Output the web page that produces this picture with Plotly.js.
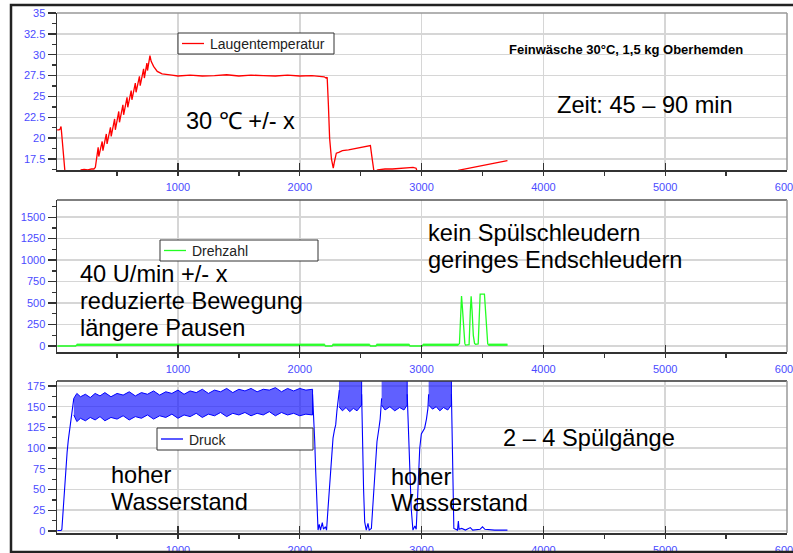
<!DOCTYPE html>
<html>
<head>
<meta charset="utf-8">
<script src="https://cdn.plot.ly/plotly-3.0.1.min.js"></script>
<style>html,body{margin:0;padding:0;background:#fff;}#chart{width:793px;height:553px;}</style>
</head>
<body>
<div id="chart"></div>
<script>
// ---------- DATA ----------
const seriesNames = ['Laugentemperatur', 'Drehzahl', 'Druck'];

// Laugentemperatur (°C) over time (s)
const tempX = [8,25,33,40,45,52,60,68,75,197,205,230,260,290,310,322,
  333,345,350,378,384,412,418,446,452,480,486,514,520,548,554,582,588,616,622,650,656,684,690,718,724,745,750,770,
  780,800,830,870,950,1000,1100,1200,1300,1400,1500,1600,1700,1800,1900,2000,2100,2200,2215,2225,2235,2245,2260,2275,2285,2300,2320,2350,2400,2450,2500,2550,2580,2590,2600,2610,
  2640,2700,2760,2820,2880,2930,2955,2965,3000,3290,3303,3400,3500,3600,3705];
const tempY = [21.0,21.0,21.1,21.4,20.6,19.5,17.6,16.0,15.5,15.9,16.2,16.25,16.2,16.3,16.3,16.5,
  17.8,18.9,17.8,19.6,18.5,20.5,19.3,21.3,20.2,22.3,21.0,23.2,21.9,24.0,22.8,24.9,23.7,25.7,24.6,26.6,25.5,27.4,26.3,28.3,27.2,29.0,28.1,29.9,
  29.2,28.6,28.0,27.7,27.55,27.45,27.55,27.45,27.5,27.6,27.45,27.55,27.5,27.45,27.55,27.45,27.5,27.35,27.2,27.3,24.0,20.0,17.5,16.4,17.2,18.2,18.3,18.5,18.6,18.75,18.9,19.0,19.1,18.0,16.5,15.9,
  16.2,16.3,16.3,16.4,16.5,16.5,16.4,15.9,15.5,15.5,16.15,16.45,16.75,17.0,17.3];

// Drehzahl (U/min)
const rpmX = [10,25,33,40,160,169,2205,2210,2265,2270,2574,2580,2625,2630,2900,2905,3005,3011,3300,3311,3320,3328,3335,3345,3355,3361,
  3390,3400,3407,3415,3425,3435,3443,3465,3472,3481,3516,3525,3535,3543,3550,3705];
const rpmY = [0,0,5,0,0,12,12,0,0,12,12,0,0,12,12,0,0,12,12,30,400,581,450,150,30,10,
  15,400,580,400,120,30,20,25,300,605,605,400,100,25,12,12];
// segments where the Drehzahl trace is a dense noisy band
const rpmNoiseStart = [169,2270,2630,3011,3550];
const rpmNoiseEnd   = [2205,2574,2900,3300,3705];
const rpmNoiseLow = 0, rpmNoiseHigh = 28;

// Druck (pressure) main line (null = inside an oscillation band)
const druckX = [10,40,47,55,62,70,80,90,100,115,130,145,null,2105,2110,2118,2123,2130,2137,2145,2150,2160,2170,2185,2195,2210,2220,
  2232,2246,2260,2273,2285,2295,2305,2314,2325,null,2508,2514,2524,2533,2546,2560,2570,2588,2600,2615,2634,2650,2660,2672,
  null,2882,2888,2900,2915,2929,2945,2956,2965,2975,2985,2998,3010,3025,3040,3052,3058,null,3245,3252,3258,3265,3280,3295,3302,3308,
  3330,3360,3400,3420,3480,3500,3520,3600,3705];
const druckY = [0.5,0.5,2,20,40,60,80,95,110,128,145,160,null,165,150,130,108,75,47,15,1,8,1,10,2,5,1,
  27,55,79,112,122,128,145,156,170,null,165,108,50,11,1,9,1,3,30,67,108,124,135,160,
  null,165,140,80,27,1,6,2,30,70,100,117,120,124,135,148,165,null,165,90,40,3,2,1,12,2,
  3,1,4,1,2,5,2,1,1];
// dense oscillation bands of Druck: upper / lower envelopes
const band1X  = [145,170,200,240,280,320,360,400,450,500,550,600,650,700,750,800,850,900,950,1000,1050,1100,1150,1200,1250,1300,1350,1400,1450,1500,1550,1600,1650,1700,1750,1800,1850,1900,1950,2000,2050,2105];
const band1Lo = [140,132,136,133,137,134,138,133,137,135,139,134,138,136,140,135,139,137,141,136,140,138,142,137,141,139,143,138,142,140,143,139,142,140,144,139,143,140,142,139,141,140];
const band1Hi = [160,166,162,165,161,166,163,167,162,166,164,168,163,167,165,169,164,168,166,170,165,169,167,171,166,170,168,172,167,171,169,172,168,171,170,173,168,172,169,172,170,171];
const band2X  = [2322,2350,2380,2410,2440,2470,2508];
const band2Lo = [150,145,149,144,148,145,152];
const band2Hi = [186,186,186,186,186,186,186];
const band3X  = [2672,2700,2740,2780,2820,2855,2882];
const band3Lo = [152,146,150,145,149,146,152];
const band3Hi = [186,186,186,186,186,186,186];
const band4X  = [3058,3090,3120,3150,3180,3215,3245];
const band4Lo = [152,147,150,145,149,146,152];
const band4Hi = [186,186,186,186,186,186,186];

const xTicks = [1000,2000,3000,4000,5000,6000];

// ---------- helpers ----------
function bandPoly(xs, lo, hi){
  return {x: xs.concat(xs.slice().reverse()), y: hi.concat(lo.slice().reverse())};
}
function segPolys(starts, ends, low, high){
  const x=[], y=[];
  for(let i=0;i<starts.length;i++){
    x.push(starts[i], ends[i], ends[i], starts[i], null);
    y.push(high, high, low, low, null);
  }
  return {x,y};
}

const RED='#ff0000', GREEN='#22ff22', BLUE='#0000ff';
const FONT='Liberation Sans, Arial, sans-serif';

const rpmBand = segPolys(rpmNoiseStart, rpmNoiseEnd, rpmNoiseLow, rpmNoiseHigh);
const b1 = bandPoly(band1X, band1Lo, band1Hi);
const b2 = bandPoly(band2X, band2Lo, band2Hi);
const b3 = bandPoly(band3X, band3Lo, band3Hi);
const b4 = bandPoly(band4X, band4Lo, band4Hi);
const bandX = b1.x.concat([null], b2.x, [null], b3.x, [null], b4.x);
const bandY = b1.y.concat([null], b2.y, [null], b3.y, [null], b4.y);

const traces = [
  {x: tempX, y: tempY, xaxis:'x', yaxis:'y', type:'scatter', mode:'lines', name:seriesNames[0],
   line:{color:RED, width:1.3}},
  {x: rpmBand.x, y: rpmBand.y, xaxis:'x2', yaxis:'y2', type:'scatter', mode:'lines', fill:'toself',
   fillcolor:'rgba(40,255,40,0.8)', line:{width:0, color:GREEN}, hoverinfo:'skip'},
  {x: rpmX, y: rpmY, xaxis:'x2', yaxis:'y2', type:'scatter', mode:'lines', name:seriesNames[1],
   line:{color:GREEN, width:1.3}},
  {x: bandX, y: bandY, xaxis:'x3', yaxis:'y3', type:'scatter', mode:'lines', fill:'toself',
   fillcolor:'rgba(20,20,255,0.68)', line:{width:1, color:BLUE}, hoverinfo:'skip'},
  {x: druckX, y: druckY, xaxis:'x3', yaxis:'y3', type:'scatter', mode:'lines', name:seriesNames[2],
   line:{color:BLUE, width:1.1}, connectgaps:false}
];

const W=793, H=553;
const px = v => v/W;
const py = v => 1 - v/H;
const xdom = [px(57), px(787)];

function xax(anchor){
  return {anchor: anchor, domain: xdom, range:[7,6000], tickvals: xTicks, ticktext: xTicks.map(String),
    showgrid:true, gridcolor:'#d6d6d6', gridwidth:1.5, zeroline:false,
    showline:true, linecolor:'#333', linewidth:1.5, ticks:'inside', ticklen:7, tickcolor:'#333', tickwidth:1.3,
    minor:{dtick:500, tick0:0, ticks:'outside', ticklen:4, tickcolor:'#333', showgrid:false},
    tickfont:{family:FONT, size:11, color:'#4b4bff'}, ticklabelstandoff:6, ticklabeloverflow:'allow',
    automargin:false, fixedrange:true};
}
function yax(anchor, dom, range, dtick){
  return {anchor: anchor, domain: dom, range: range, dtick: dtick, tick0:0,
    showgrid:true, gridcolor:'#d6d6d6', gridwidth:1.5, zeroline:false,
    showline:true, linecolor:'#333', linewidth:1.5, ticks:'outside', ticklen:8, tickcolor:'#333', tickwidth:1.3,
    minor:{dtick: dtick/2, tick0:0, ticks:'outside', ticklen:4, tickcolor:'#333', showgrid:false},
    tickfont:{family:FONT, size:11, color:'#4b4bff'}, automargin:false, fixedrange:true};
}

function ann(text, x, y, size, bold){
  return {text: bold ? '<b>'+text+'</b>' : text, x: px(x), y: py(y), xref:'paper', yref:'paper',
    xanchor:'left', yanchor:'middle', showarrow:false, font:{family:FONT, size:size, color:'#000'}};
}

function borders(xa, ya, topColor){
  return [
    {type:'line', xref: xa+' domain', yref: ya+' domain', x0:0, x1:1, y0:1, y1:1, line:{color:topColor, width:1.5}},
    {type:'line', xref: xa+' domain', yref: ya+' domain', x0:1, x1:1, y0:0, y1:1, line:{color:'#999', width:1.5}}
  ];
}

// drawn legend boxes (one per panel), labels taken from the series names
const legendBoxes = [
  {name: seriesNames[0], color: RED,   x0:178, x1:334, y0:33,  y1:54},
  {name: seriesNames[1], color: GREEN, x0:160, x1:318, y0:240, y1:261},
  {name: seriesNames[2], color: BLUE,  x0:157, x1:313, y0:428, y1:450}
];
const legendShapes = [], legendAnns = [];
legendBoxes.forEach(b => {
  legendShapes.push({type:'rect', xref:'paper', yref:'paper', x0:px(b.x0), x1:px(b.x1), y0:py(b.y1), y1:py(b.y0),
    line:{color:'#333', width:1}, fillcolor:'#fff', layer:'above'});
  const cy = (b.y0+b.y1)/2;
  legendShapes.push({type:'line', xref:'paper', yref:'paper', x0:px(b.x0+4), x1:px(b.x0+26), y0:py(cy), y1:py(cy),
    line:{color:b.color, width:1.3}, layer:'above'});
  legendAnns.push({text:b.name, x:px(b.x0+30), y:py(cy+0.5), xref:'paper', yref:'paper', xanchor:'left', yanchor:'middle',
    showarrow:false, font:{family:FONT, size:14, color:'#222'}});
});

const BIG = 23.6;
const layout = {
  width: W, height: H, margin:{l:0,r:0,t:0,b:0,pad:0},
  paper_bgcolor:'#fff', plot_bgcolor:'#fff', font:{family:FONT}, showlegend:false,
  xaxis: xax('y'), xaxis2: xax('y2'), xaxis3: xax('y3'),
  yaxis:  yax('x',  [py(170), py(13)],  [16.18, 35], 2.5),
  yaxis2: yax('x2', [py(352), py(200)], [-70, 1700], 250),
  yaxis3: yax('x3', [py(533), py(381)], [-2.5, 181], 25),
  shapes: [
    {type:'rect', xref:'paper', yref:'paper', x0: px(11), x1: 1.05, y0: py(552), y1: py(5), line:{color:'#222', width:2.5}, fillcolor:'rgba(0,0,0,0)', layer:'above'}
  ].concat(borders('x','y','#999'), borders('x2','y2','#555'), borders('x3','y3','#333'), legendShapes),
  annotations: [
    ann('Feinwäsche 30°C, 1,5 kg Oberhemden', 507, 49, 13, true),
    ann('Zeit: 45 – 90 min', 555, 105, BIG),
    ann('30 ℃ +/- x', 184, 121, BIG),
    ann('40 U/min +/- x', 78, 274, BIG),
    ann('reduzierte Bewegung', 78, 301, BIG),
    ann('längere Pausen', 78, 328, BIG),
    ann('kein Spülschleudern', 426, 233, BIG),
    ann('geringes Endschleudern', 426, 260, BIG),
    ann('2 – 4 Spülgänge', 501, 438, BIG),
    ann('hoher', 109, 475, BIG),
    ann('Wasserstand', 109, 502, BIG),
    ann('hoher', 389, 477, BIG),
    ann('Wasserstand', 389, 503, BIG)
  ].concat(legendAnns)
};

Plotly.newPlot('chart', traces, layout, {displayModeBar:false, staticPlot:true});
</script>
</body>
</html>
